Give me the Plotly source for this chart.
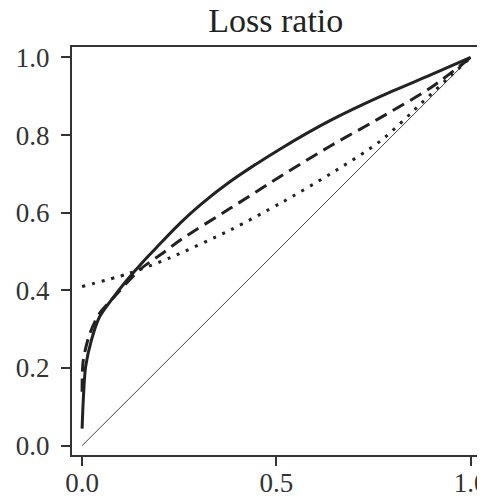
import plotly.graph_objects as go

# Data
solid_x = [0.0, 0.003, 0.009, 0.024, 0.045, 0.075, 0.114, 0.157, 0.191, 0.253, 0.305, 0.382, 0.511, 0.639, 0.768, 0.897, 1.0]
solid_y = [0.044, 0.117, 0.203, 0.272, 0.332, 0.375, 0.425, 0.474, 0.51, 0.574, 0.621, 0.681, 0.765, 0.838, 0.90, 0.955, 1.0]

dash_x = [0.0, 0.003, 0.02, 0.045, 0.075, 0.148, 0.209, 0.253, 0.382, 0.511, 0.639, 0.768, 0.897, 1.0]
dash_y = [0.139, 0.22, 0.289, 0.341, 0.375, 0.453, 0.497, 0.530, 0.612, 0.694, 0.772, 0.845, 0.922, 1.0]

dot_x = [0.0, 0.118, 0.226, 0.382, 0.511, 0.639, 0.768, 0.871, 0.94, 1.0]
dot_y = [0.41, 0.443, 0.484, 0.556, 0.625, 0.700, 0.785, 0.88, 0.945, 1.0]

diag_x = [0.0, 1.0]
diag_y = [0.0, 1.0]

x_ticks = [0.0, 0.5, 1.0]
x_tick_labels = ["0.0", "0.5", "1.0"]
y_ticks = [0.0, 0.2, 0.4, 0.6, 0.8, 1.0]
y_tick_labels = ["0.0", "0.2", "0.4", "0.6", "0.8", "1.0"]

INK = "#222222"
FRAME = "#333333"
FONT = "Liberation Serif"

fig = go.Figure()
fig.add_trace(go.Scatter(x=diag_x, y=diag_y, mode="lines",
                         line=dict(color="#444444", width=1), showlegend=False))
fig.add_trace(go.Scatter(x=dot_x, y=dot_y, mode="lines",
                         line=dict(color=INK, width=3, dash="3px,7px", shape="spline", smoothing=0.8),
                         showlegend=False))
fig.add_trace(go.Scatter(x=dash_x, y=dash_y, mode="lines",
                         line=dict(color=INK, width=3, dash="13px,7px", shape="spline", smoothing=0.8),
                         showlegend=False))
fig.add_trace(go.Scatter(x=solid_x, y=solid_y, mode="lines",
                         line=dict(color=INK, width=3, shape="spline", smoothing=0.8),
                         showlegend=False))

axis_common = dict(showline=True, mirror=True, linecolor=FRAME, linewidth=2,
                   ticks="outside", ticklen=9, tickwidth=2, tickcolor=FRAME,
                   showgrid=False, zeroline=False, automargin=False,
                   tickfont=dict(family=FONT, size=27, color="#333333"))

# page body has an 8px default margin, so the figure is offset by 8px
fig.update_layout(
    width=485, height=500,
    margin=dict(l=64, r=13, t=39, b=53),
    paper_bgcolor="white", plot_bgcolor="white",
    title=dict(text="Loss ratio", x=0.5522, xanchor="center",
               y=0.976, yref="container", yanchor="middle",
               font=dict(family=FONT, size=34, color="#222222")),
    xaxis=dict(range=[-0.026, 1.024], tickvals=x_ticks, ticktext=x_tick_labels,
               ticklabelstandoff=-6, **axis_common),
    yaxis=dict(range=[-0.024, 1.027], tickvals=y_ticks, ticktext=y_tick_labels,
               ticklabelstandoff=6, **axis_common),
)

fig.write_html("out.html")
